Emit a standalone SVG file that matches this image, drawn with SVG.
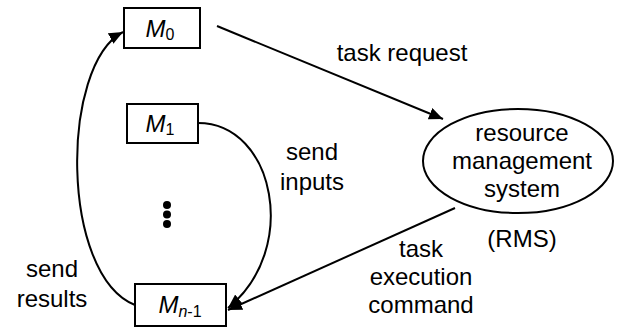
<svg xmlns="http://www.w3.org/2000/svg" width="618" height="330" viewBox="0 0 618 330">
  <style>
    .box { fill: #fff; stroke: #000; stroke-width: 2; }
    .ell { fill: #fff; stroke: #000; stroke-width: 2; }
    .wire { fill: none; stroke: #000; stroke-width: 2; }
    .lbl { font-family: "Liberation Sans", Arial, sans-serif; font-size: 24px; fill: #000; text-anchor: middle; }
    .m { font-family: "Liberation Sans", Arial, sans-serif; font-size: 24px; font-style: italic; fill: #000; text-anchor: middle; }
    .sub { font-style: normal; font-size: 16px; }
  </style>
  <defs>
    <marker id="head" viewBox="0 0 14 12" refX="14" refY="6" markerWidth="14" markerHeight="12" markerUnits="userSpaceOnUse" orient="auto">
      <path d="M0,0 L14,6 L0,12 z" fill="#000"/>
    </marker>
  </defs>

  <!-- connectors -->
  <g id="connectors">
    <!-- task request: M0 to RMS -->
    <line class="wire" x1="217" y1="26" x2="443" y2="119" marker-end="url(#head)"/>
    <!-- send inputs: M1 to Mn-1 -->
    <path class="wire" d="M198,123 C275,123 300,250 228,308" marker-end="url(#head)"/>
    <!-- task execution command: RMS to Mn-1 -->
    <line class="wire" x1="455" y1="208" x2="228" y2="310" marker-end="url(#head)"/>
    <!-- send results: Mn-1 back to M0 -->
    <path class="wire" d="M135,305 C60,275 60,65 123,32" marker-end="url(#head)"/>
  </g>

  <g id="m0">
    <rect class="box" x="124" y="8" width="76" height="40"/>
    <text class="m" x="160" y="37">M<tspan class="sub" dy="3">0</tspan></text>
  </g>

  <g id="m1">
    <rect class="box" x="127" y="104" width="71" height="39"/>
    <text class="m" x="160" y="132">M<tspan class="sub" font-size="12" dy="3">1</tspan></text>
  </g>

  <g id="dots">
    <circle cx="167" cy="205" r="4"/>
    <circle cx="167" cy="214.5" r="4"/>
    <circle cx="167" cy="224" r="4"/>
  </g>

  <g id="mn1">
    <rect class="box" x="135" y="284" width="91" height="42"/>
    <text class="m" x="180" y="313">M<tspan font-size="16" dy="4">n</tspan><tspan class="sub">-1</tspan></text>
  </g>

  <g id="rms">
    <ellipse class="ell" cx="518" cy="161" rx="95" ry="52"/>
    <text class="lbl" x="522" y="141">resource</text>
    <text class="lbl" x="522" y="169">management</text>
    <text class="lbl" x="522" y="197">system</text>
    <text class="lbl" x="522" y="247">(RMS)</text>
  </g>

  <g id="labels">
    <text class="lbl" x="402" y="61">task request</text>
    <text class="lbl" x="312" y="160">send</text>
    <text class="lbl" x="312" y="190">inputs</text>
    <text class="lbl" x="52" y="277">send</text>
    <text class="lbl" x="52" y="307">results</text>
    <text class="lbl" x="421" y="257">task</text>
    <text class="lbl" x="421" y="285">execution</text>
    <text class="lbl" x="421" y="313">command</text>
  </g>
</svg>
